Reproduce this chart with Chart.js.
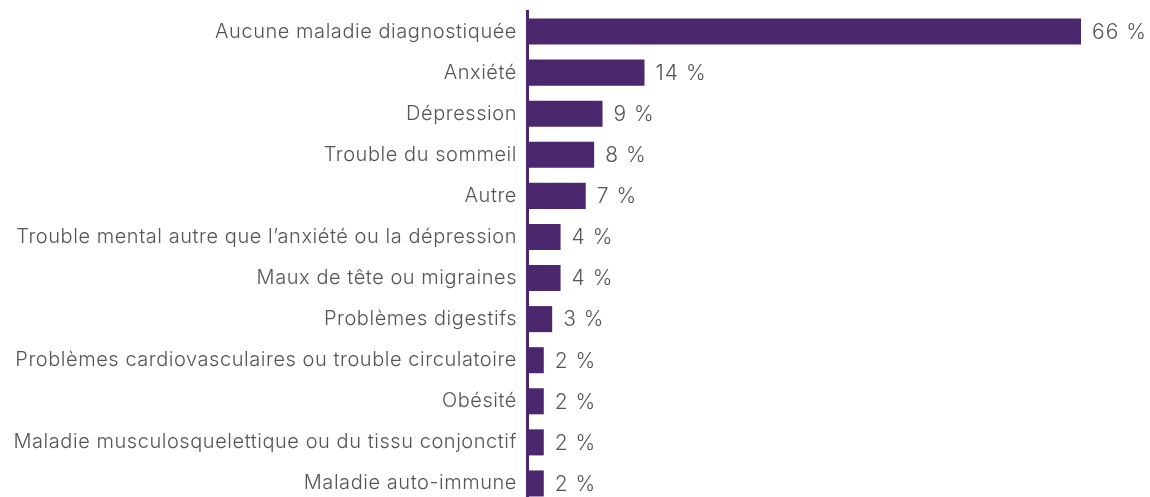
<!DOCTYPE html>
<html>
<head>
<meta charset="utf-8">
<script src="https://cdn.jsdelivr.net/npm/chart.js@4"></script>
<style>
  html, body { margin: 0; padding: 0; background: #fff; overflow: hidden; }
  canvas { display: block; }
</style>
</head>
<body>
<canvas id="chart" width="1150" height="505"></canvas>
<script>
const categories = [
  'Aucune maladie diagnostiquée',
  'Anxiété',
  'Dépression',
  'Trouble du sommeil',
  'Autre',
  'Trouble mental autre que l’anxiété ou la dépression',
  'Maux de tête ou migraines',
  'Problèmes digestifs',
  'Problèmes cardiovasculaires ou trouble circulatoire',
  'Obésité',
  'Maladie musculosquelettique ou du tissu conjonctif',
  'Maladie auto-immune'
];
const values = [66, 14, 9, 8, 7, 4, 4, 3, 2, 2, 2, 2];

const barColor = '#4b286d';
const textColor = '#555555';
const fontFamily = 'Inter, "Liberation Sans", sans-serif';

// slightly open letter spacing, like the original light Helvetica
const spacing = {
  id: 'spacing',
  beforeDraw(chart) { chart.ctx.letterSpacing = '0.55px'; }
};

// draws "NN %" just right of each bar
const valueLabels = {
  id: 'valueLabels',
  afterDatasetsDraw(chart) {
    const ctx = chart.ctx;
    const meta = chart.getDatasetMeta(0);
    ctx.save();
    ctx.letterSpacing = '1px';
    ctx.font = '300 21px ' + fontFamily;
    ctx.fillStyle = textColor;
    ctx.textAlign = 'left';
    ctx.textBaseline = 'middle';
    meta.data.forEach((bar, i) => {
      ctx.fillText(values[i] + ' %', bar.x + 11, bar.y + 1);
    });
    ctx.restore();
  }
};

new Chart(document.getElementById('chart'), {
  type: 'bar',
  data: {
    labels: categories,
    datasets: [{
      data: values,
      backgroundColor: barColor,
      borderWidth: 0,
      categoryPercentage: 1,
      barPercentage: 0.634
    }]
  },
  options: {
    indexAxis: 'y',
    responsive: false,
    animation: false,
    layout: { padding: { top: 11, right: 69, bottom: 1, left: 0 } },
    plugins: {
      legend: { display: false },
      tooltip: { enabled: false }
    },
    scales: {
      x: {
        display: false,
        min: 0,
        max: 66
      },
      y: {
        afterFit(scale) {
          scale.width = 527;
          scale.paddingTop = 0;
          scale.paddingBottom = 0;
        },
        grid: { display: false, drawTicks: false },
        border: { display: true, color: barColor, width: 3 },
        ticks: {
          padding: 10,
          color: textColor,
          font: { family: fontFamily, size: 20, weight: 300 }
        }
      }
    }
  },
  plugins: [spacing, valueLabels]
});
</script>
</body>
</html>
